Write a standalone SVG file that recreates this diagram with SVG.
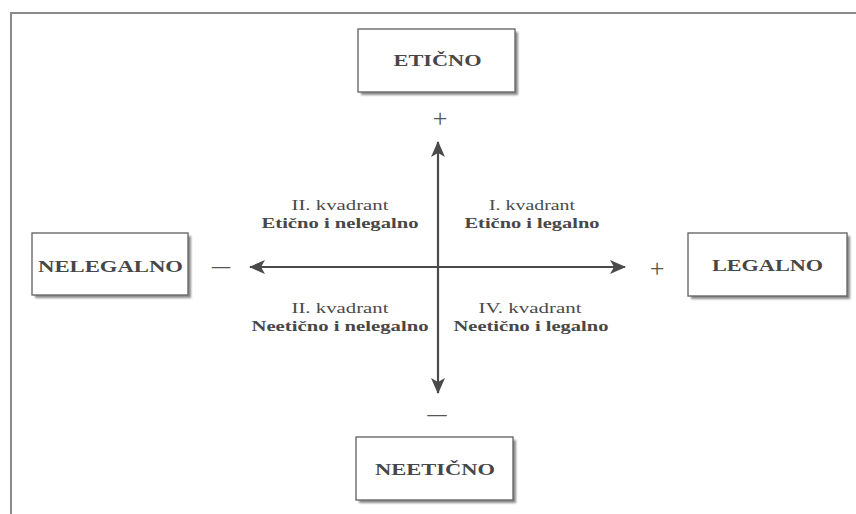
<svg xmlns="http://www.w3.org/2000/svg" width="856" height="514" viewBox="0 0 856 514">
<defs>
<marker id="ah" viewBox="0 0 16 14" refX="15" refY="7" markerWidth="16" markerHeight="14" markerUnits="userSpaceOnUse" orient="auto">
<path d="M0,0 L16,7 L0,14 L4,7 Z" fill="#4a4a4a"/>
</marker>
<filter id="blur" x="-5%" y="-5%" width="110%" height="110%"><feGaussianBlur stdDeviation="0.9"/></filter>
</defs>
<style>
.box{fill:#fff;stroke:#6a6a6a;stroke-width:1.4}
.shadow{fill:#8a8a8a;filter:url(#blur)}
.node{font-family:"Liberation Serif","Times New Roman",serif;font-weight:bold;font-size:17px;fill:#474747;text-anchor:middle}
.q{font-family:"Liberation Serif","Times New Roman",serif;font-size:14.5px;fill:#4a4a4a;text-anchor:middle}
.qb{font-family:"Liberation Serif","Times New Roman",serif;font-size:14.5px;font-weight:bold;fill:#484848;text-anchor:middle}
.sign{font-family:"Liberation Serif","Times New Roman",serif;font-size:26px;fill:#555;text-anchor:middle}
.axis{stroke:#4a4a4a;stroke-width:2.2;fill:none;marker-end:url(#ah)}
.frame{stroke:#8a8a8a;stroke-width:2;fill:none}
</style>
<rect width="856" height="514" fill="#fff"/>
<path class="frame" d="M11,514 L11,13 L856,13"/>
<g id="connectors">
<line class="axis" x1="438" y1="267" x2="438" y2="142"/>
<line class="axis" x1="438" y1="267" x2="438" y2="393"/>
<line class="axis" x1="438" y1="267" x2="250" y2="267"/>
<line class="axis" x1="438" y1="267" x2="625" y2="267"/>
</g>
<g id="eticno">
<rect class="shadow" x="361" y="32" width="157" height="63"/>
<rect class="box" x="358" y="29" width="157" height="63"/>
<text class="node" x="437.5" y="66" textLength="88" lengthAdjust="spacingAndGlyphs">ETIČNO</text>
</g>
<g id="nelegalno">
<rect class="shadow" x="35" y="236" width="156" height="62"/>
<rect class="box" x="32" y="233" width="156" height="62"/>
<text class="node" x="110.5" y="272" textLength="145" lengthAdjust="spacingAndGlyphs">NELEGALNO</text>
</g>
<g id="legalno">
<rect class="shadow" x="691" y="236" width="159" height="63"/>
<rect class="box" x="688" y="233" width="159" height="63"/>
<text class="node" x="767.5" y="271" textLength="111" lengthAdjust="spacingAndGlyphs">LEGALNO</text>
</g>
<g id="neeticno">
<rect class="shadow" x="359" y="440" width="157" height="63"/>
<rect class="box" x="356" y="437" width="157" height="63"/>
<text class="node" x="435" y="475" textLength="120" lengthAdjust="spacingAndGlyphs">NEETIČNO</text>
</g>
<g id="signs">
<text class="sign" x="440" y="127">+</text>
<text class="sign" x="437" y="422" textLength="19" lengthAdjust="spacingAndGlyphs">–</text>
<text class="sign" x="221" y="274" textLength="18" lengthAdjust="spacingAndGlyphs">–</text>
<text class="sign" x="657" y="277">+</text>
</g>
<g id="q2">
<text class="q" x="340" y="210" textLength="97" lengthAdjust="spacingAndGlyphs">II. kvadrant</text>
<text class="qb" x="340" y="228" textLength="157" lengthAdjust="spacingAndGlyphs">Etično i nelegalno</text>
</g>
<g id="q1">
<text class="q" x="532" y="210" textLength="86" lengthAdjust="spacingAndGlyphs">I. kvadrant</text>
<text class="qb" x="532" y="228" textLength="135" lengthAdjust="spacingAndGlyphs">Etično i legalno</text>
</g>
<g id="q3">
<text class="q" x="340" y="313" textLength="97" lengthAdjust="spacingAndGlyphs">II. kvadrant</text>
<text class="qb" x="340" y="331" textLength="177" lengthAdjust="spacingAndGlyphs">Neetično i nelegalno</text>
</g>
<g id="q4">
<text class="q" x="530" y="313" textLength="103" lengthAdjust="spacingAndGlyphs">IV. kvadrant</text>
<text class="qb" x="531" y="331" textLength="155" lengthAdjust="spacingAndGlyphs">Neetično i legalno</text>
</g>
</svg>
